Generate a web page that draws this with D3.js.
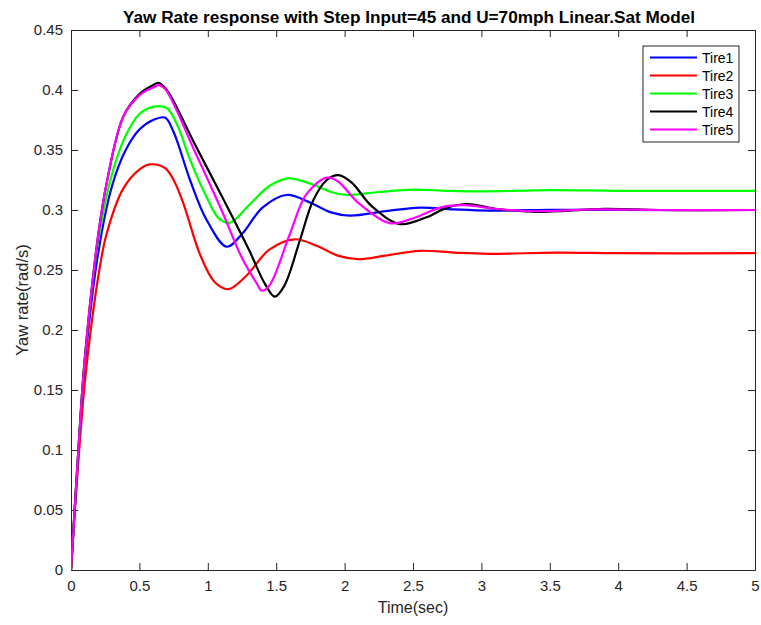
<!DOCTYPE html>
<html><head><meta charset="utf-8">
<script src="https://cdn.jsdelivr.net/npm/d3@7"></script>
<style>body{margin:0;background:#fff}svg{display:block}text{font-family:"Liberation Sans",Arial,sans-serif}</style>
</head><body>
<svg id="c" width="761" height="625"></svg>
<script>
const xTicks = [0,0.5,1,1.5,2,2.5,3,3.5,4,4.5,5];
const yTicks = [0,0.05,0.1,0.15,0.2,0.25,0.3,0.35,0.4,0.45];
const seriesNames = ["Tire1","Tire2","Tire3","Tire4","Tire5"];
const seriesColors = ["#0000ff","#ff0000","#00ff00","#000000","#ff00ff"];
// [time, yaw rate]
const tire1 = [[0,0],[0.05,0.09],[0.1,0.17],[0.2,0.265],[0.3,0.32],[0.4,0.35],[0.5,0.367],[0.6,0.375],[0.687,0.377],[0.75,0.365],[0.87,0.325],[0.99,0.292],[1.138,0.2694],[1.25,0.28],[1.4,0.302],[1.576,0.3125],[1.75,0.306],[1.9,0.298],[2.04,0.2953],[2.3,0.299],[2.55,0.302],[2.8,0.3005],[3.05,0.2995],[3.5,0.3002],[4,0.3],[5,0.3]];
const tire2 = [[0,0],[0.05,0.085],[0.1,0.155],[0.15,0.205],[0.2,0.245],[0.26,0.28],[0.383,0.318],[0.504,0.334],[0.577,0.338],[0.687,0.335],[0.75,0.325],[0.82,0.306],[0.943,0.263],[1.05,0.24],[1.15,0.234],[1.28,0.245],[1.45,0.267],[1.637,0.2756],[1.8,0.27],[1.95,0.262],[2.1,0.259],[2.3,0.262],[2.55,0.266],[2.8,0.2645],[3.05,0.2635],[3.55,0.2645],[4,0.264],[5,0.264]];
const tire3 = [[0,0],[0.05,0.093],[0.1,0.175],[0.2,0.275],[0.3,0.33],[0.4,0.362],[0.5,0.38],[0.6,0.386],[0.7,0.385],[0.78,0.37],[0.87,0.342],[0.99,0.311],[1.08,0.293],[1.162,0.2894],[1.3,0.304],[1.45,0.32],[1.588,0.3264],[1.75,0.322],[1.9,0.315],[2.015,0.3125],[2.25,0.315],[2.5,0.317],[2.75,0.316],[3.0,0.3155],[3.5,0.3165],[4,0.316],[5,0.316]];
const tire4 = [[0,0],[0.05,0.093],[0.1,0.175],[0.2,0.28],[0.26,0.322],[0.383,0.378],[0.504,0.397],[0.6,0.404],[0.64,0.406],[0.7,0.4],[0.9,0.356],[1.1,0.312],[1.3,0.267],[1.42,0.238],[1.49,0.2278],[1.56,0.237],[1.674,0.275],[1.77,0.308],[1.87,0.325],[1.954,0.329],[2.05,0.323],[2.2,0.303],[2.405,0.2883],[2.6,0.294],[2.75,0.302],[2.9,0.305],[3.1,0.301],[3.4,0.2985],[3.9,0.301],[4.3,0.3],[5,0.3]];
const tire5 = [[0,0],[0.05,0.093],[0.1,0.175],[0.2,0.28],[0.26,0.322],[0.383,0.378],[0.504,0.396],[0.6,0.402],[0.64,0.404],[0.687,0.401],[0.9,0.35],[1.1,0.3],[1.25,0.26],[1.357,0.239],[1.394,0.2328],[1.45,0.237],[1.6,0.28],[1.72,0.313],[1.869,0.327],[1.95,0.324],[2.1,0.306],[2.33,0.289],[2.5,0.293],[2.7,0.302],[2.87,0.304],[3.1,0.301],[3.35,0.299],[3.85,0.3005],[4.3,0.3],[5,0.3]];
const allSeries = [tire1,tire2,tire3,tire4,tire5];

const L=71,R=755,T=30,B=570;
const svg=d3.select("#c");
const x=d3.scaleLinear().domain([0,5]).range([L,R]);
const y=d3.scaleLinear().domain([0,0.45]).range([B,T]);
const tc="#262626";
function fmt(v){return String(+v.toFixed(2));}

const gx=svg.append("g").attr("transform",`translate(0,${B})`).call(d3.axisBottom(x).tickValues(xTicks).tickFormat(fmt).tickSizeInner(-7).tickSizeOuter(0).tickPadding(10));
const gy=svg.append("g").attr("transform",`translate(${L},0)`).call(d3.axisLeft(y).tickValues(yTicks).tickFormat(fmt).tickSizeInner(-7).tickSizeOuter(0).tickPadding(8));
const gt=svg.append("g").attr("transform",`translate(0,${T})`).call(d3.axisTop(x).tickValues(xTicks).tickFormat("").tickSizeInner(-7).tickSizeOuter(0));
const gr=svg.append("g").attr("transform",`translate(${R},0)`).call(d3.axisRight(y).tickValues(yTicks).tickFormat("").tickSizeInner(-7).tickSizeOuter(0));
[gx,gy,gt,gr].forEach(g=>{g.selectAll("path,line").attr("stroke",tc).attr("stroke-width",1);g.selectAll("text").attr("fill",tc).style("font-size","15px").style("font-family","Liberation Sans, Arial, sans-serif");});

svg.append("clipPath").attr("id","pc").append("rect").attr("x",L).attr("y",T).attr("width",R-L).attr("height",B-T);
const line=d3.line().x(d=>x(d[0])).y(d=>y(d[1])).curve(d3.curveCatmullRom.alpha(0.5));
const pg=svg.append("g").attr("clip-path","url(#pc)");
allSeries.forEach((s,i)=>{pg.append("path").attr("d",line(s)).attr("fill","none").attr("stroke",seriesColors[i]).attr("stroke-width",2.2).attr("stroke-linejoin","round");});

svg.append("text").attr("x",409).attr("y",23).attr("text-anchor","middle").style("font-size","16px").style("font-weight","bold").attr("fill","#000").attr("textLength",572).attr("lengthAdjust","spacingAndGlyphs").text("Yaw Rate response with Step Input=45 and U=70mph Linear.Sat Model");
svg.append("text").attr("x",(L+R)/2).attr("y",613).attr("text-anchor","middle").style("font-size","16px").attr("fill",tc).text("Time(sec)");
svg.append("text").attr("transform","translate(28,300) rotate(-90)").attr("text-anchor","middle").style("font-size","16.5px").attr("fill",tc).text("Yaw rate(rad/s)");

const lg=svg.append("g");
lg.append("rect").attr("x",643).attr("y",46).attr("width",96).attr("height",96).attr("fill","#fff").attr("stroke",tc).attr("stroke-width",1);
seriesNames.forEach((n,i)=>{
  const yy=57.5+i*18;
  lg.append("line").attr("x1",650).attr("x2",697).attr("y1",yy).attr("y2",yy).attr("stroke",seriesColors[i]).attr("stroke-width",2.2);
  lg.append("text").attr("x",702).attr("y",yy+5).style("font-size","14px").attr("fill","#000").text(n);
});
</script>
</body></html>
